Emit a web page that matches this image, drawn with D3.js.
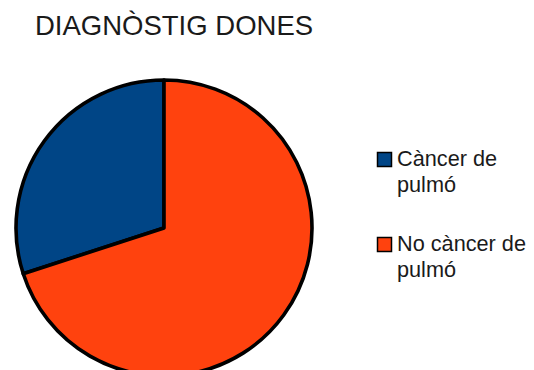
<!DOCTYPE html>
<html>
<head>
<meta charset="utf-8">
<script src="https://cdn.jsdelivr.net/npm/d3@7"></script>
<style>
  html, body { margin: 0; padding: 0; background: #fff; }
  svg { display: block; }
</style>
</head>
<body>
<svg id="chart" width="534" height="370"></svg>
<script>
// Diagnoses among women
const title = "DIAGNÒSTIG DONES";
const categories = ["Càncer de pulmó", "No càncer de pulmó"];
const legendLines = [["Càncer de", "pulmó"], ["No càncer de", "pulmó"]];
const values = [30, 70];
const colors = ["#004586", "#ff420e"];

const svg = d3.select("#chart");

svg.append("text")
  .attr("x", 35)
  .attr("y", 35)
  .attr("font-family", "Liberation Sans, Arial, sans-serif")
  .attr("font-size", 27.5)
  .attr("fill", "#1a1a1a")
  .text(title);

const cx = 164, cy = 228, r = 148;

// slices run counter-clockwise from 12 o'clock, first category first
const pie = d3.pie().sort(null).startAngle(2 * Math.PI).endAngle(0);
const arc = d3.arc().innerRadius(0).outerRadius(r);
const color = d3.scaleOrdinal().domain(categories).range(colors);

const g = svg.append("g").attr("transform", `translate(${cx},${cy})`);
g.selectAll("path")
  .data(pie(values))
  .join("path")
  .attr("d", arc)
  .attr("fill", (d, i) => color(categories[i]))
  .attr("stroke", "#000")
  .attr("stroke-width", 3.6)
  .attr("stroke-linejoin", "round");

// legend
const legendY = d3.scalePoint().domain(categories).range([166, 251]);
const lg = svg.append("g");
categories.forEach((c, i) => {
  const y = legendY(c);
  lg.append("rect")
    .attr("x", 377.5)
    .attr("y", y - 13.5)
    .attr("width", 14)
    .attr("height", 14)
    .attr("fill", color(c))
    .attr("stroke", "#000")
    .attr("stroke-width", 1.5);
  const t = lg.append("text")
    .attr("x", 397)
    .attr("y", y)
    .attr("font-family", "Liberation Sans, Arial, sans-serif")
    .attr("font-size", 21.7)
    .attr("fill", "#1a1a1a");
  legendLines[i].forEach((line, k) => {
    t.append("tspan").attr("x", 397).attr("dy", k === 0 ? 0 : 25.5).text(line);
  });
});
</script>
</body>
</html>
